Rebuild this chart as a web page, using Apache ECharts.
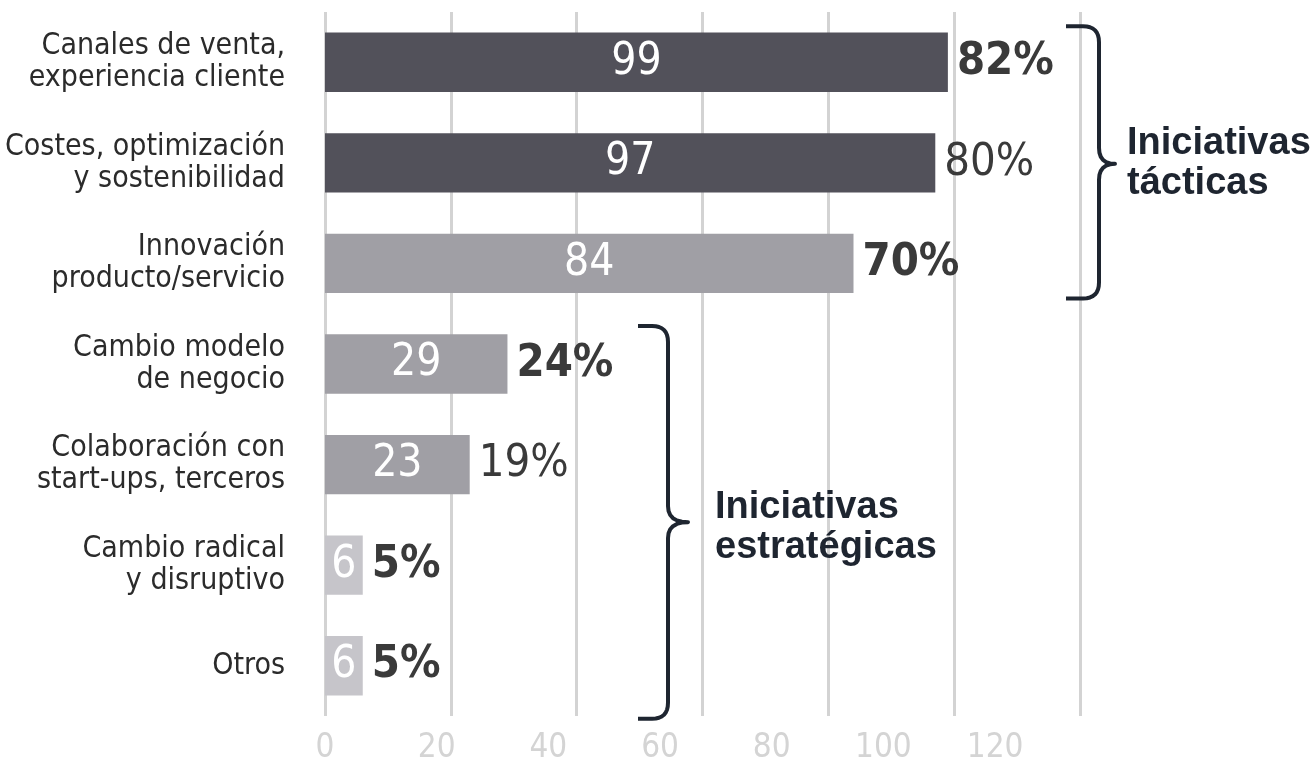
<!DOCTYPE html>
<html>
<head>
<meta charset="utf-8">
<title>Iniciativas</title>
<script src="https://cdn.jsdelivr.net/npm/echarts@6/dist/echarts.min.js"></script>
<style>
  html, body { margin: 0; padding: 0; background: #fff; }
  #chart { width: 1312px; height: 775px; }
</style>
</head>
<body>
<div id="chart"></div>
<script>
const categories = [
  'Canales de venta,\nexperiencia cliente',
  'Costes, optimización\ny sostenibilidad',
  'Innovación\nproducto/servicio',
  'Cambio modelo\nde negocio',
  'Colaboración con\nstart-ups, terceros',
  'Cambio radical\ny disruptivo',
  'Otros'
]
const counts = [99, 97, 84, 29, 23, 6, 6]
const shares = [82, 80, 70, 24, 19, 5, 5]
const tiers = [0, 0, 1, 1, 1, 2, 2]
const tickLabels = [0, 20, 40, 60, 80, 100, 120]
const groupNames = ['Iniciativas\ntácticas', 'Iniciativas\nestratégicas']

const tierColors = ['#52515a', '#a09fa5', '#c6c5ca']
const boldShare = [true, false, true, true, false, true, true]
const narrow = "'DejaVu Sans Condensed', 'Liberation Sans Narrow', sans-serif"
const ink = '#1e2530'

const chart = echarts.init(document.getElementById('chart'))

// brace drawn as a sampled polyline
function quad(p0, c, p1, n) {
  const pts = []
  for (let i = 1; i <= n; i++) {
    const t = i / n
    const a = (1 - t) * (1 - t), b = 2 * (1 - t) * t, d = t * t
    pts.push([a * p0[0] + b * c[0] + d * p1[0], a * p0[1] + b * c[1] + d * p1[1]])
  }
  return pts
}

function brace(x0, x1, xm, y0, y1, ym, r) {
  let pts = [[x0, y0], [x1 - r, y0]]
  pts = pts.concat(quad([x1 - r, y0], [x1, y0], [x1, y0 + r], 8))
  pts.push([x1, ym - r])
  pts = pts.concat(quad([x1, ym - r], [x1, ym], [xm, ym], 6))
  pts = pts.concat(quad([xm, ym], [x1, ym], [x1, ym + r], 6))
  pts.push([x1, y1 - r])
  pts = pts.concat(quad([x1, y1 - r], [x1, y1], [x1 - r, y1], 8))
  pts.push([x0, y1])
  return {
    type: 'polyline',
    shape: { points: pts },
    style: { stroke: ink, lineWidth: 4, fill: null, lineJoin: 'round' },
    silent: true
  }
}

function braceText(x, y, text) {
  return {
    type: 'text',
    x: x, y: y,
    style: {
      text: text,
      font: "bold 38px 'Liberation Sans', Arial, sans-serif",
      fill: ink,
      lineHeight: 40,
      textVerticalAlign: 'middle'
    },
    silent: true
  }
}

const option = {
  animation: false,
  backgroundColor: '#fff',
  grid: { left: 325, right: 232, top: 12, bottom: 59, outerBoundsMode: 'none', containLabel: false },
  xAxis: [
    {
      type: 'value',
      min: 0,
      max: 120,
      interval: 20,
      axisLine: { show: false },
      axisTick: { show: false },
      axisLabel: { show: false },
      splitLine: { show: true, lineStyle: { color: '#d3d3d3', width: 3 } }
    },
    {
      // tick labels sit on their own (slightly tighter) spacing in the original
      type: 'value',
      position: 'bottom',
      min: 0,
      max: 135.2,
      interval: 20,
      axisLine: { show: false },
      axisTick: { show: false },
      splitLine: { show: false },
      axisLabel: {
        showMaxLabel: false,
        margin: 16,
        color: '#d4d4d4',
        fontFamily: narrow,
        fontSize: 33,
        formatter: v => tickLabels.indexOf(v) >= 0 ? String(v) : ''
      }
    }
  ],
  yAxis: {
    type: 'category',
    inverse: true,
    data: categories,
    axisLine: { show: false },
    axisTick: { show: false },
    axisLabel: {
      margin: 40,
      color: '#2b2b2b',
      fontFamily: narrow,
      fontSize: 30,
      lineHeight: 32,
      align: 'right'
    }
  },
  series: [
    {
      type: 'bar',
      barWidth: '59%',
      data: counts.map((v, i) => ({ value: v, itemStyle: { color: tierColors[tiers[i]] } })),
      label: {
        show: true,
        position: 'inside',
        color: '#fff',
        fontFamily: narrow,
        fontSize: 44
      },
      z: 3
    },
    {
      type: 'bar',
      barWidth: '59%',
      barGap: '-100%',
      silent: true,
      data: counts.map((v, i) => ({
        value: v,
        label: { fontWeight: boldShare[i] ? 'bold' : 'normal' }
      })),
      itemStyle: { color: 'rgba(0,0,0,0)' },
      label: {
        show: true,
        position: 'right',
        distance: 9,
        color: '#3a3a3a',
        fontFamily: narrow,
        fontSize: 45,
        formatter: p => shares[p.dataIndex] + '%'
      },
      z: 4
    }
  ]
}

chart.setOption(option)

const yc = i => chart.convertToPixel({ yAxisIndex: 0 }, i)
chart.setOption({
  graphic: [
    brace(1066, 1099, 1115, yc(0) - 36, yc(2) + 35, yc(1) + 1, 16),
    braceText(1127, (yc(0) + yc(2)) / 2 + 1, groupNames[0]),
    brace(638, 668, 688, yc(3) - 38, yc(6) + 53, yc(5) - 43, 16),
    braceText(715, yc(5) - 38, groupNames[1])
  ]
})
</script>
</body>
</html>
